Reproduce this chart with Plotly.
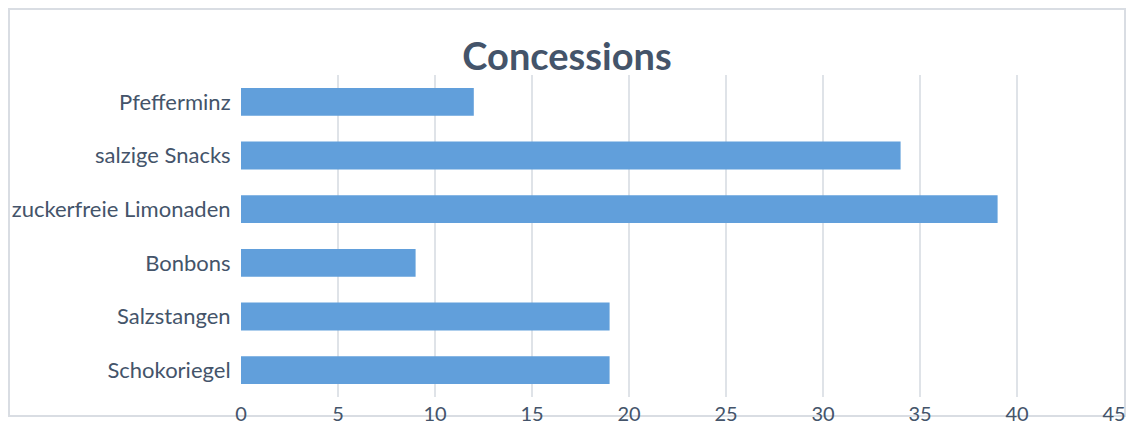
import plotly.graph_objects as go

categories = ["Schokoriegel", "Salzstangen", "Bonbons", "zuckerfreie Limonaden", "salzige Snacks", "Pfefferminz"]
values = [19, 19, 9, 39, 34, 12]
x_ticks = [0, 5, 10, 15, 20, 25, 30, 35, 40, 45]

W, H = 1130, 425
L, R, T, B = 241, 1114, 75, 397

fig = go.Figure(go.Bar(
    y=categories, x=values, orientation="h",
    marker=dict(color="#619fdb", line=dict(width=0)),
    width=0.52,
))

font_family = "Lato, 'Open Sans', sans-serif"
fig.update_layout(
    width=W, height=H,
    margin=dict(l=L, r=W - R, t=T, b=H - B, pad=0, autoexpand=False),
    paper_bgcolor="white", plot_bgcolor="white",
    showlegend=False,
    title=dict(text="<b>Concessions</b>", x=(567) / W, xanchor="center",
               y=1 - 57 / H, yanchor="middle",
               font=dict(family=font_family, size=38, color="#44546a")),
    xaxis=dict(range=[0, 45], tickvals=x_ticks, showgrid=True, gridcolor="#dfe3e8", gridwidth=2,
               zeroline=False, showline=False, ticks="", ticklabelstandoff=3,
               tickfont=dict(family=font_family, size=20, color="#44546a"), fixedrange=True,
               automargin=False),
    yaxis=dict(categoryorder="array", categoryarray=categories, showgrid=False, zeroline=False,
               ticks="outside", ticklen=5, tickcolor="rgba(0,0,0,0)",
               tickfont=dict(family=font_family, size=22, color="#44546a"), fixedrange=True,
               automargin=False),
    bargap=0.48,
)

pw, ph = R - L, B - T
def px(x): return (x - L) / pw
def py(y): return (B - y) / ph
fig.add_shape(type="rect", xref="paper", yref="paper",
              x0=px(9), x1=px(1125), y0=py(416), y1=py(9),
              line=dict(color="#d9dde3", width=2), fillcolor="rgba(0,0,0,0)", layer="below")

fig.write_html("out.html")
